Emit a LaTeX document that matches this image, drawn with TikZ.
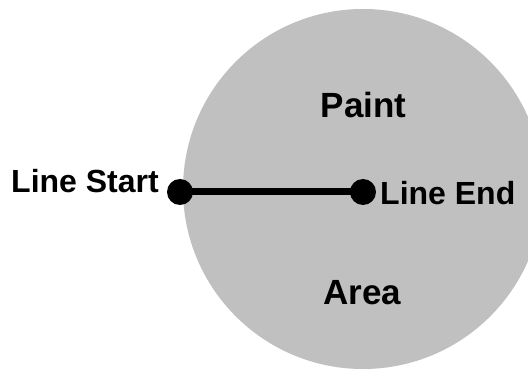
\documentclass[tikz,border=0pt]{standalone}
\usepackage{fontspec}
\setmainfont{Liberation Sans}
\begin{document}
\begin{tikzpicture}[x=1pt,y=-1pt,
  paintarea/.style={circle,fill=areagray,draw=none,minimum size=360pt,inner sep=0pt},
  dotnode/.style={circle,fill=black,draw=none,minimum size=26pt,inner sep=0pt},
  segment/.style={line width=7pt,draw=black},
  biglabel/.style={font=\fontsize{35}{40}\selectfont\bfseries,inner sep=0pt,anchor=base},
  smalllabel/.style={font=\fontsize{32}{38}\selectfont\bfseries,inner sep=0pt}]
\definecolor{areagray}{RGB}{192,192,192}
\useasboundingbox[fill=white] (0,0) rectangle (528,371);
\node[paintarea] (area) at (363,189) {};
\node[biglabel] (paint) at (363.5,117.5) {Paint};
\node[biglabel] (arealbl) at (362.5,305) {Area};
\node[dotnode] (start) at (180,192) {};
\node[dotnode] (end) at (363,192) {};
\draw[segment] (start.center) -- (end.center);
\node[smalllabel,anchor=base west] (startlbl) at (11,193) {Line Start};
\node[smalllabel,anchor=base west] (endlbl) at (380,205) {Line End};
\end{tikzpicture}
\end{document}
